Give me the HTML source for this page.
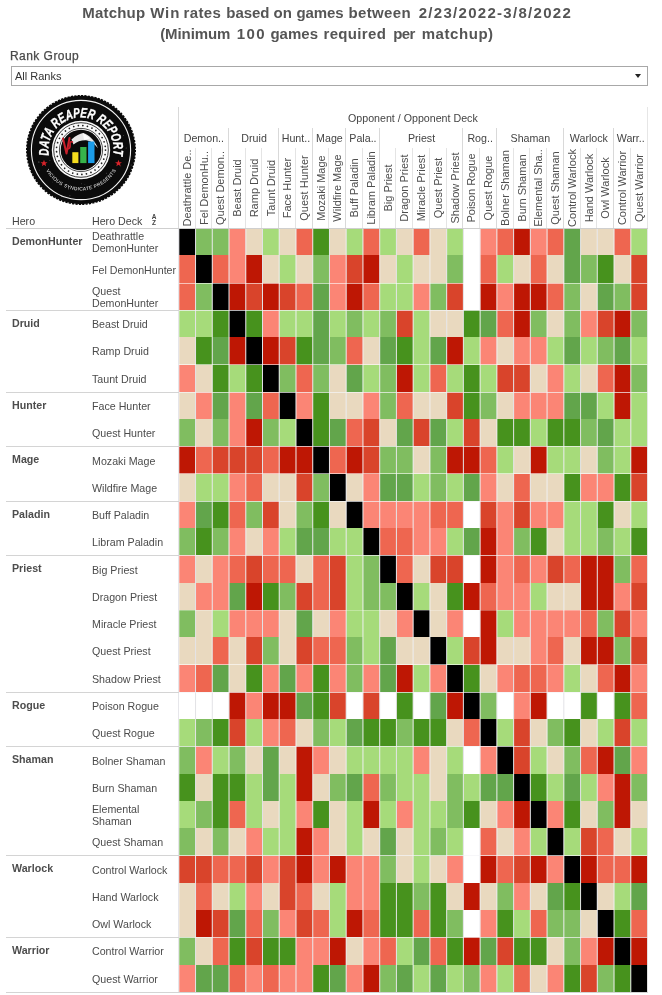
<!DOCTYPE html>
<html><head><meta charset="utf-8"><title>Matchup Win rates</title>
<style>
html,body{margin:0;padding:0;background:#fff;}
body{width:662px;height:995px;position:relative;overflow:hidden;font-family:"Liberation Sans",sans-serif;color:#444;}
.a{position:absolute;}
.t{position:absolute;left:0;width:654px;text-align:center;font-weight:bold;font-size:15px;line-height:20px;color:#555;white-space:nowrap;}
.hl{position:absolute;height:1px;background:#d4d4d4;left:6px;}
.vl{position:absolute;width:1px;background:#d9d9d9;}
.h{position:absolute;left:12px;font-weight:bold;font-size:10.667px;line-height:12.25px;color:#4d4d4d;white-space:nowrap;}
.d{position:absolute;left:92px;font-size:10.667px;line-height:12.25px;color:#4c4c4c;white-space:nowrap;display:flex;align-items:center;}
.g{position:absolute;font-size:10.667px;color:#444;text-align:center;white-space:nowrap;top:131.5px;line-height:12.25px;}
.v{position:absolute;font-size:11px;color:#4e4e4e;white-space:nowrap;transform-origin:0 0;transform:rotate(-90deg);line-height:12.25px;height:12.25px;width:80px;text-align:center;}
#w{position:absolute;left:0;top:0;width:662px;height:995px;will-change:transform;background:#fff;}
</style></head><body><div id="w">
<svg class="a" style="left:0;top:0;" width="662" height="48" viewBox="0 0 662 48"><g font-family="Liberation Sans, sans-serif" font-weight="bold" font-size="15" fill="#555"><text x="82.2" y="17.7" textLength="62.9" lengthAdjust="spacing">Matchup</text><text x="150.2" y="17.7" textLength="29.1" lengthAdjust="spacing">Win</text><text x="183.4" y="17.7" textLength="37.5" lengthAdjust="spacing">rates</text><text x="226.3" y="17.7" textLength="43.2" lengthAdjust="spacing">based</text><text x="273.6" y="17.7" textLength="18.3" lengthAdjust="spacing">on</text><text x="296.5" y="17.7" textLength="47.0" lengthAdjust="spacing">games</text><text x="348.4" y="17.7" textLength="62.2" lengthAdjust="spacing">between</text><text x="418.7" y="17.7" textLength="152.1" lengthAdjust="spacing">2/23/2022-3/8/2022</text><text x="160.2" y="38.5" textLength="70.2" lengthAdjust="spacing">(Minimum</text><text x="236.7" y="38.5" textLength="27.8" lengthAdjust="spacing">100</text><text x="270.4" y="38.5" textLength="47.7" lengthAdjust="spacing">games</text><text x="323.5" y="38.5" textLength="62.4" lengthAdjust="spacing">required</text><text x="393.3" y="38.5" textLength="22.0" lengthAdjust="spacing">per</text><text x="421.7" y="38.5" textLength="71.4" lengthAdjust="spacing">matchup)</text></g></svg>
<div class="a" style="left:10px;top:49px;font-size:12px;line-height:14px;color:#4a4a4a;letter-spacing:0.45px;white-space:nowrap;-webkit-text-stroke:0.25px #4a4a4a;">Rank Group</div>
<div class="a" style="left:11px;top:66px;width:637px;height:20px;border:1px solid #a8a8a8;box-sizing:border-box;"></div>
<div class="a" style="left:15px;top:70px;font-size:11px;line-height:12px;color:#333;white-space:nowrap;">All Ranks</div>
<div class="a" style="left:635px;top:74px;width:0;height:0;border-left:3px solid transparent;border-right:3px solid transparent;border-top:4px solid #222;"></div>
<svg class="a" style="left:24px;top:93px;" width="114" height="114" viewBox="-57 -57 114 114">
<defs>
<path id="arcT" d="M -31.8 7.2 A 32.6 32.6 0 1 1 31.8 7.2"/>
<path id="arcB" d="M -35.7 19.0 A 40.4 40.4 0 0 0 35.7 19.0"/>
</defs>
<circle r="54.2" fill="#0b0b0b"/>
<circle r="54.2" fill="none" stroke="#0b0b0b" stroke-width="1.6" stroke-dasharray="2.2 1.2"/>
<circle r="49.6" fill="none" stroke="#f4f4f4" stroke-width="1.1"/>
<text font-family="Liberation Sans, sans-serif" font-weight="bold" font-style="italic" font-size="13.8" fill="#fff" stroke="#fff" stroke-width="0.35" text-anchor="middle" textLength="113" lengthAdjust="spacingAndGlyphs"><textPath href="#arcT" startOffset="50%" textLength="113" lengthAdjust="spacingAndGlyphs">DATA REAPER REPORT</textPath></text>
<text font-family="Liberation Sans, sans-serif" font-size="4.8" fill="#f0f0f0" text-anchor="middle"><textPath href="#arcB" startOffset="50%" textLength="84" lengthAdjust="spacing">VICIOUS SYNDICATE PRESENTS</textPath></text>
<polygon fill="#d8232a" points="0,-3.6 0.95,-1.15 3.45,-1.1 1.5,0.5 2.15,2.95 0,1.55 -2.15,2.95 -1.5,0.5 -3.45,-1.1 -0.95,-1.15" transform="translate(-37,13.3)"/>
<polygon fill="#d8232a" points="0,-3.6 0.95,-1.15 3.45,-1.1 1.5,0.5 2.15,2.95 0,1.55 -2.15,2.95 -1.5,0.5 -3.45,-1.1 -0.95,-1.15" transform="translate(37.5,13.3)"/>
<circle cx="22.2" cy="31.0" r="0.45" fill="#fff" fill-opacity="0.28"/><circle cx="-28.4" cy="32.0" r="0.27" fill="#fff" fill-opacity="0.43"/><circle cx="-29.1" cy="12.9" r="0.27" fill="#fff" fill-opacity="0.28"/><circle cx="18.7" cy="-35.7" r="0.29" fill="#fff" fill-opacity="0.33"/><circle cx="42.4" cy="-14.5" r="0.42" fill="#fff" fill-opacity="0.39"/><circle cx="50.2" cy="15.1" r="0.51" fill="#fff" fill-opacity="0.35"/><circle cx="25.2" cy="23.0" r="0.34" fill="#fff" fill-opacity="0.54"/><circle cx="-30.5" cy="-17.2" r="0.44" fill="#fff" fill-opacity="0.38"/><circle cx="39.7" cy="16.5" r="0.27" fill="#fff" fill-opacity="0.32"/><circle cx="-41.3" cy="20.2" r="0.34" fill="#fff" fill-opacity="0.45"/><circle cx="-12.6" cy="39.0" r="0.49" fill="#fff" fill-opacity="0.49"/><circle cx="-32.5" cy="-16.4" r="0.41" fill="#fff" fill-opacity="0.56"/><circle cx="-11.1" cy="45.7" r="0.54" fill="#fff" fill-opacity="0.29"/><circle cx="1.8" cy="-40.2" r="0.30" fill="#fff" fill-opacity="0.42"/><circle cx="-15.7" cy="-27.7" r="0.48" fill="#fff" fill-opacity="0.45"/><circle cx="-19.6" cy="46.3" r="0.46" fill="#fff" fill-opacity="0.46"/><circle cx="-42.1" cy="11.9" r="0.50" fill="#fff" fill-opacity="0.58"/><circle cx="-21.3" cy="-35.5" r="0.27" fill="#fff" fill-opacity="0.50"/><circle cx="45.2" cy="-2.0" r="0.50" fill="#fff" fill-opacity="0.35"/><circle cx="-19.3" cy="-34.4" r="0.26" fill="#fff" fill-opacity="0.41"/><circle cx="25.7" cy="23.3" r="0.27" fill="#fff" fill-opacity="0.52"/><circle cx="0.5" cy="33.8" r="0.37" fill="#fff" fill-opacity="0.55"/><circle cx="-31.1" cy="10.3" r="0.41" fill="#fff" fill-opacity="0.56"/><circle cx="32.2" cy="-37.0" r="0.33" fill="#fff" fill-opacity="0.40"/><circle cx="29.0" cy="-25.9" r="0.54" fill="#fff" fill-opacity="0.30"/><circle cx="3.9" cy="34.7" r="0.32" fill="#fff" fill-opacity="0.42"/>
<circle r="29.2" fill="#fafafa"/>
<circle r="27.3" fill="none" stroke="#222" stroke-width="0.9"/>
<circle r="24.5" fill="none" stroke="#222" stroke-width="1.75" stroke-linecap="round" stroke-dasharray="0.01 4.655"/>
<circle r="21.6" fill="none" stroke="#222" stroke-width="0.8"/>
<circle r="20.3" fill="#0a0a0a"/>
<path d="M -9.5 -10.5 C -5 -14.5 -1 -16.5 2 -17 C 8 -15.5 14 -9 17 -1.8 C 13.5 -6.5 10 -9 6 -9.6 C 1 -10 -4 -8.5 -7.5 -5.5 Z" fill="#e6e6e6"/>
<path d="M 2 -17 L 9 -11.5 L 3 -10 Z" fill="#fbfbfb"/>
<path d="M -18 -11.5 L -14.5 3.5 L -11.5 -12" fill="none" stroke="#c8202b" stroke-width="2" stroke-linecap="round" stroke-linejoin="round"/>
<path d="M -8.6 -8 C -13.5 -9.5 -8.5 -2.5 -12.6 -1.2" fill="none" stroke="#c8202b" stroke-width="1.6" stroke-linecap="round"/>
<rect x="-8.7" y="2.2" width="6.1" height="10.9" fill="#f5dc1e"/>
<rect x="-0.8" y="-3.0" width="6.3" height="16.1" fill="#37b34a"/>
<rect x="7.1" y="-8.5" width="6.4" height="21.6" fill="#1c9ce8"/>
</svg>

<div class="a" style="left:348px;top:111.5px;font-size:10.667px;line-height:12.25px;color:#444;white-space:nowrap;">Opponent / Opponent Deck</div>
<div class="g" style="left:178.8px;width:50.2px;">Demon..</div>
<div class="g" style="left:229.0px;width:50.2px;">Druid</div>
<div class="g" style="left:279.2px;width:33.5px;">Hunt..</div>
<div class="g" style="left:312.7px;width:33.5px;">Mage</div>
<div class="g" style="left:346.2px;width:33.5px;">Pala..</div>
<div class="g" style="left:379.7px;width:83.7px;">Priest</div>
<div class="g" style="left:463.4px;width:33.5px;">Rog..</div>
<div class="g" style="left:496.9px;width:67.0px;">Shaman</div>
<div class="g" style="left:563.8px;width:50.2px;">Warlock</div>
<div class="g" style="left:614.0px;width:33.5px;">Warr..</div>
<div class="v" style="left:180.8px;top:228.3px;">Deathrattle De..</div>
<div class="v" style="left:197.5px;top:228.3px;">Fel DemonHu..</div>
<div class="v" style="left:214.2px;top:228.3px;">Quest Demon..</div>
<div class="v" style="left:231.0px;top:228.3px;">Beast Druid</div>
<div class="v" style="left:247.7px;top:228.3px;">Ramp Druid</div>
<div class="v" style="left:264.5px;top:228.3px;">Taunt Druid</div>
<div class="v" style="left:281.2px;top:228.3px;">Face Hunter</div>
<div class="v" style="left:298.0px;top:228.3px;">Quest Hunter</div>
<div class="v" style="left:314.7px;top:228.3px;">Mozaki Mage</div>
<div class="v" style="left:331.4px;top:228.3px;">Wildfire Mage</div>
<div class="v" style="left:348.2px;top:228.3px;">Buff Paladin</div>
<div class="v" style="left:364.9px;top:228.3px;">Libram Paladin</div>
<div class="v" style="left:381.7px;top:228.3px;">Big Priest</div>
<div class="v" style="left:398.4px;top:228.3px;">Dragon Priest</div>
<div class="v" style="left:415.1px;top:228.3px;">Miracle Priest</div>
<div class="v" style="left:431.9px;top:228.3px;">Quest Priest</div>
<div class="v" style="left:448.6px;top:228.3px;">Shadow Priest</div>
<div class="v" style="left:465.4px;top:228.3px;">Poison Rogue</div>
<div class="v" style="left:482.1px;top:228.3px;">Quest Rogue</div>
<div class="v" style="left:498.8px;top:228.3px;">Bolner Shaman</div>
<div class="v" style="left:515.6px;top:228.3px;">Burn Shaman</div>
<div class="v" style="left:532.3px;top:228.3px;">Elemental Sha..</div>
<div class="v" style="left:549.0px;top:228.3px;">Quest Shaman</div>
<div class="v" style="left:565.8px;top:228.3px;">Control Warlock</div>
<div class="v" style="left:582.5px;top:228.3px;">Hand Warlock</div>
<div class="v" style="left:599.3px;top:228.3px;">Owl Warlock</div>
<div class="v" style="left:616.0px;top:228.3px;">Control Warrior</div>
<div class="v" style="left:632.8px;top:228.3px;">Quest Warrior</div>
<div class="vl" style="left:178px;top:107px;height:121px;"></div>
<div class="vl" style="left:178px;top:228px;height:764px;background:#e6e6ea;"></div>
<div class="vl" style="left:647px;top:107px;height:885px;background:#e6e6e6;"></div>
<div class="vl" style="left:228px;top:128px;height:100px;"></div>
<div class="vl" style="left:278px;top:128px;height:100px;"></div>
<div class="vl" style="left:312px;top:128px;height:100px;"></div>
<div class="vl" style="left:345px;top:128px;height:100px;"></div>
<div class="vl" style="left:379px;top:128px;height:100px;"></div>
<div class="vl" style="left:462px;top:128px;height:100px;"></div>
<div class="vl" style="left:496px;top:128px;height:100px;"></div>
<div class="vl" style="left:563px;top:128px;height:100px;"></div>
<div class="vl" style="left:613px;top:128px;height:100px;"></div>
<div class="vl" style="left:195px;top:148px;height:80px;background:#e4e4e4;"></div>
<div class="vl" style="left:211px;top:148px;height:80px;background:#e4e4e4;"></div>
<div class="vl" style="left:245px;top:148px;height:80px;background:#e4e4e4;"></div>
<div class="vl" style="left:261px;top:148px;height:80px;background:#e4e4e4;"></div>
<div class="vl" style="left:295px;top:148px;height:80px;background:#e4e4e4;"></div>
<div class="vl" style="left:328px;top:148px;height:80px;background:#e4e4e4;"></div>
<div class="vl" style="left:362px;top:148px;height:80px;background:#e4e4e4;"></div>
<div class="vl" style="left:395px;top:148px;height:80px;background:#e4e4e4;"></div>
<div class="vl" style="left:412px;top:148px;height:80px;background:#e4e4e4;"></div>
<div class="vl" style="left:429px;top:148px;height:80px;background:#e4e4e4;"></div>
<div class="vl" style="left:446px;top:148px;height:80px;background:#e4e4e4;"></div>
<div class="vl" style="left:479px;top:148px;height:80px;background:#e4e4e4;"></div>
<div class="vl" style="left:513px;top:148px;height:80px;background:#e4e4e4;"></div>
<div class="vl" style="left:529px;top:148px;height:80px;background:#e4e4e4;"></div>
<div class="vl" style="left:546px;top:148px;height:80px;background:#e4e4e4;"></div>
<div class="vl" style="left:580px;top:148px;height:80px;background:#e4e4e4;"></div>
<div class="vl" style="left:596px;top:148px;height:80px;background:#e4e4e4;"></div>
<div class="vl" style="left:630px;top:148px;height:80px;background:#e4e4e4;"></div>
<div class="a" style="left:12px;top:214.8px;font-size:10.667px;line-height:12.25px;color:#444;">Hero</div>
<div class="a" style="left:92px;top:214.8px;font-size:10.667px;line-height:12.25px;color:#444;">Hero Deck</div>
<div class="a" style="left:151px;top:214.3px;font-size:6.5px;line-height:5.6px;color:#444;font-weight:bold;text-align:center;width:6px;">A<br>Z</div>
<svg class="a" style="left:0;top:0;" width="662" height="995" viewBox="0 0 662 995"><rect x="195.04" y="228.5" width="1" height="763.7" fill="#e2e2e6"/><rect x="211.78" y="228.5" width="1" height="763.7" fill="#e2e2e6"/><rect x="228.52" y="228.5" width="1" height="763.7" fill="#e2e2e6"/><rect x="245.26" y="228.5" width="1" height="763.7" fill="#e2e2e6"/><rect x="262.00" y="228.5" width="1" height="763.7" fill="#e2e2e6"/><rect x="278.74" y="228.5" width="1" height="763.7" fill="#e2e2e6"/><rect x="295.48" y="228.5" width="1" height="763.7" fill="#e2e2e6"/><rect x="312.22" y="228.5" width="1" height="763.7" fill="#e2e2e6"/><rect x="328.96" y="228.5" width="1" height="763.7" fill="#e2e2e6"/><rect x="345.70" y="228.5" width="1" height="763.7" fill="#e2e2e6"/><rect x="362.44" y="228.5" width="1" height="763.7" fill="#e2e2e6"/><rect x="379.18" y="228.5" width="1" height="763.7" fill="#e2e2e6"/><rect x="395.92" y="228.5" width="1" height="763.7" fill="#e2e2e6"/><rect x="412.66" y="228.5" width="1" height="763.7" fill="#e2e2e6"/><rect x="429.40" y="228.5" width="1" height="763.7" fill="#e2e2e6"/><rect x="446.14" y="228.5" width="1" height="763.7" fill="#e2e2e6"/><rect x="462.88" y="228.5" width="1" height="763.7" fill="#e2e2e6"/><rect x="479.62" y="228.5" width="1" height="763.7" fill="#e2e2e6"/><rect x="496.36" y="228.5" width="1" height="763.7" fill="#e2e2e6"/><rect x="513.10" y="228.5" width="1" height="763.7" fill="#e2e2e6"/><rect x="529.84" y="228.5" width="1" height="763.7" fill="#e2e2e6"/><rect x="546.58" y="228.5" width="1" height="763.7" fill="#e2e2e6"/><rect x="563.32" y="228.5" width="1" height="763.7" fill="#e2e2e6"/><rect x="580.06" y="228.5" width="1" height="763.7" fill="#e2e2e6"/><rect x="596.80" y="228.5" width="1" height="763.7" fill="#e2e2e6"/><rect x="613.54" y="228.5" width="1" height="763.7" fill="#e2e2e6"/><rect x="630.28" y="228.5" width="1" height="763.7" fill="#e2e2e6"/><rect x="179.30" y="229" width="15.74" height="26" fill="#000000"/><rect x="196.04" y="229" width="15.74" height="26" fill="#80bd60"/><rect x="212.78" y="229" width="15.74" height="26" fill="#80bd60"/><rect x="229.52" y="229" width="15.74" height="26" fill="#fb8575"/><rect x="246.26" y="229" width="15.74" height="26" fill="#e9d9bf"/><rect x="263.00" y="229" width="15.74" height="26" fill="#a6db7a"/><rect x="279.74" y="229" width="15.74" height="26" fill="#e9d9bf"/><rect x="296.48" y="229" width="15.74" height="26" fill="#ee6650"/><rect x="313.22" y="229" width="15.74" height="26" fill="#47921d"/><rect x="329.96" y="229" width="15.74" height="26" fill="#e9d9bf"/><rect x="346.70" y="229" width="15.74" height="26" fill="#a6db7a"/><rect x="363.44" y="229" width="15.74" height="26" fill="#ee6650"/><rect x="380.18" y="229" width="15.74" height="26" fill="#a6db7a"/><rect x="396.92" y="229" width="15.74" height="26" fill="#e9d9bf"/><rect x="413.66" y="229" width="15.74" height="26" fill="#ee6650"/><rect x="430.40" y="229" width="15.74" height="26" fill="#e9d9bf"/><rect x="447.14" y="229" width="15.74" height="26" fill="#a6db7a"/><rect x="480.62" y="229" width="15.74" height="26" fill="#fb8575"/><rect x="497.36" y="229" width="15.74" height="26" fill="#ee6650"/><rect x="514.10" y="229" width="15.74" height="26" fill="#be1704"/><rect x="530.84" y="229" width="15.74" height="26" fill="#fb8575"/><rect x="547.58" y="229" width="15.74" height="26" fill="#ee6650"/><rect x="564.32" y="229" width="15.74" height="26" fill="#62a54b"/><rect x="581.06" y="229" width="15.74" height="26" fill="#e9d9bf"/><rect x="597.80" y="229" width="15.74" height="26" fill="#e9d9bf"/><rect x="614.54" y="229" width="15.74" height="26" fill="#ee6650"/><rect x="631.28" y="229" width="15.74" height="26" fill="#a6db7a"/>
<rect x="179.30" y="255" width="15.74" height="28" fill="#ee6650"/><rect x="196.04" y="255" width="15.74" height="28" fill="#000000"/><rect x="212.78" y="255" width="15.74" height="28" fill="#ee6650"/><rect x="229.52" y="255" width="15.74" height="28" fill="#fb8575"/><rect x="246.26" y="255" width="15.74" height="28" fill="#be1704"/><rect x="263.00" y="255" width="15.74" height="28" fill="#e9d9bf"/><rect x="279.74" y="255" width="15.74" height="28" fill="#a6db7a"/><rect x="296.48" y="255" width="15.74" height="28" fill="#e9d9bf"/><rect x="313.22" y="255" width="15.74" height="28" fill="#80bd60"/><rect x="329.96" y="255" width="15.74" height="28" fill="#fb8575"/><rect x="346.70" y="255" width="15.74" height="28" fill="#d9442b"/><rect x="363.44" y="255" width="15.74" height="28" fill="#be1704"/><rect x="380.18" y="255" width="15.74" height="28" fill="#e9d9bf"/><rect x="396.92" y="255" width="15.74" height="28" fill="#a6db7a"/><rect x="413.66" y="255" width="15.74" height="28" fill="#e9d9bf"/><rect x="430.40" y="255" width="15.74" height="28" fill="#e9d9bf"/><rect x="447.14" y="255" width="15.74" height="28" fill="#80bd60"/><rect x="480.62" y="255" width="15.74" height="28" fill="#ee6650"/><rect x="497.36" y="255" width="15.74" height="28" fill="#a6db7a"/><rect x="514.10" y="255" width="15.74" height="28" fill="#e9d9bf"/><rect x="530.84" y="255" width="15.74" height="28" fill="#ee6650"/><rect x="547.58" y="255" width="15.74" height="28" fill="#e9d9bf"/><rect x="564.32" y="255" width="15.74" height="28" fill="#62a54b"/><rect x="581.06" y="255" width="15.74" height="28" fill="#80bd60"/><rect x="597.80" y="255" width="15.74" height="28" fill="#47921d"/><rect x="614.54" y="255" width="15.74" height="28" fill="#e9d9bf"/><rect x="631.28" y="255" width="15.74" height="28" fill="#d9442b"/>
<rect x="179.30" y="283" width="15.74" height="27" fill="#ee6650"/><rect x="196.04" y="283" width="15.74" height="27" fill="#80bd60"/><rect x="212.78" y="283" width="15.74" height="27" fill="#000000"/><rect x="229.52" y="283" width="15.74" height="27" fill="#be1704"/><rect x="246.26" y="283" width="15.74" height="27" fill="#d9442b"/><rect x="263.00" y="283" width="15.74" height="27" fill="#be1704"/><rect x="279.74" y="283" width="15.74" height="27" fill="#d9442b"/><rect x="296.48" y="283" width="15.74" height="27" fill="#ee6650"/><rect x="313.22" y="283" width="15.74" height="27" fill="#62a54b"/><rect x="329.96" y="283" width="15.74" height="27" fill="#fb8575"/><rect x="346.70" y="283" width="15.74" height="27" fill="#be1704"/><rect x="363.44" y="283" width="15.74" height="27" fill="#ee6650"/><rect x="380.18" y="283" width="15.74" height="27" fill="#a6db7a"/><rect x="396.92" y="283" width="15.74" height="27" fill="#a6db7a"/><rect x="413.66" y="283" width="15.74" height="27" fill="#fb8575"/><rect x="430.40" y="283" width="15.74" height="27" fill="#80bd60"/><rect x="447.14" y="283" width="15.74" height="27" fill="#d9442b"/><rect x="480.62" y="283" width="15.74" height="27" fill="#be1704"/><rect x="497.36" y="283" width="15.74" height="27" fill="#fb8575"/><rect x="514.10" y="283" width="15.74" height="27" fill="#be1704"/><rect x="530.84" y="283" width="15.74" height="27" fill="#be1704"/><rect x="547.58" y="283" width="15.74" height="27" fill="#ee6650"/><rect x="564.32" y="283" width="15.74" height="27" fill="#80bd60"/><rect x="581.06" y="283" width="15.74" height="27" fill="#e9d9bf"/><rect x="597.80" y="283" width="15.74" height="27" fill="#62a54b"/><rect x="614.54" y="283" width="15.74" height="27" fill="#80bd60"/><rect x="631.28" y="283" width="15.74" height="27" fill="#d9442b"/>
<rect x="179.30" y="310" width="15.74" height="27" fill="#a6db7a"/><rect x="196.04" y="310" width="15.74" height="27" fill="#a6db7a"/><rect x="212.78" y="310" width="15.74" height="27" fill="#47921d"/><rect x="229.52" y="310" width="15.74" height="27" fill="#000000"/><rect x="246.26" y="310" width="15.74" height="27" fill="#47921d"/><rect x="263.00" y="310" width="15.74" height="27" fill="#fb8575"/><rect x="279.74" y="310" width="15.74" height="27" fill="#a6db7a"/><rect x="296.48" y="310" width="15.74" height="27" fill="#a6db7a"/><rect x="313.22" y="310" width="15.74" height="27" fill="#62a54b"/><rect x="329.96" y="310" width="15.74" height="27" fill="#a6db7a"/><rect x="346.70" y="310" width="15.74" height="27" fill="#80bd60"/><rect x="363.44" y="310" width="15.74" height="27" fill="#a6db7a"/><rect x="380.18" y="310" width="15.74" height="27" fill="#80bd60"/><rect x="396.92" y="310" width="15.74" height="27" fill="#d9442b"/><rect x="413.66" y="310" width="15.74" height="27" fill="#a6db7a"/><rect x="430.40" y="310" width="15.74" height="27" fill="#e9d9bf"/><rect x="447.14" y="310" width="15.74" height="27" fill="#e9d9bf"/><rect x="463.88" y="310" width="15.74" height="27" fill="#47921d"/><rect x="480.62" y="310" width="15.74" height="27" fill="#62a54b"/><rect x="497.36" y="310" width="15.74" height="27" fill="#ee6650"/><rect x="514.10" y="310" width="15.74" height="27" fill="#be1704"/><rect x="530.84" y="310" width="15.74" height="27" fill="#80bd60"/><rect x="547.58" y="310" width="15.74" height="27" fill="#e9d9bf"/><rect x="564.32" y="310" width="15.74" height="27" fill="#80bd60"/><rect x="581.06" y="310" width="15.74" height="27" fill="#fb8575"/><rect x="597.80" y="310" width="15.74" height="27" fill="#d9442b"/><rect x="614.54" y="310" width="15.74" height="27" fill="#be1704"/><rect x="631.28" y="310" width="15.74" height="27" fill="#80bd60"/>
<rect x="179.30" y="337" width="15.74" height="28" fill="#e9d9bf"/><rect x="196.04" y="337" width="15.74" height="28" fill="#47921d"/><rect x="212.78" y="337" width="15.74" height="28" fill="#62a54b"/><rect x="229.52" y="337" width="15.74" height="28" fill="#be1704"/><rect x="246.26" y="337" width="15.74" height="28" fill="#000000"/><rect x="263.00" y="337" width="15.74" height="28" fill="#be1704"/><rect x="279.74" y="337" width="15.74" height="28" fill="#d9442b"/><rect x="296.48" y="337" width="15.74" height="28" fill="#47921d"/><rect x="313.22" y="337" width="15.74" height="28" fill="#62a54b"/><rect x="329.96" y="337" width="15.74" height="28" fill="#80bd60"/><rect x="346.70" y="337" width="15.74" height="28" fill="#ee6650"/><rect x="363.44" y="337" width="15.74" height="28" fill="#e9d9bf"/><rect x="380.18" y="337" width="15.74" height="28" fill="#62a54b"/><rect x="396.92" y="337" width="15.74" height="28" fill="#47921d"/><rect x="413.66" y="337" width="15.74" height="28" fill="#a6db7a"/><rect x="430.40" y="337" width="15.74" height="28" fill="#62a54b"/><rect x="447.14" y="337" width="15.74" height="28" fill="#be1704"/><rect x="463.88" y="337" width="15.74" height="28" fill="#a6db7a"/><rect x="480.62" y="337" width="15.74" height="28" fill="#fb8575"/><rect x="497.36" y="337" width="15.74" height="28" fill="#e9d9bf"/><rect x="514.10" y="337" width="15.74" height="28" fill="#fb8575"/><rect x="530.84" y="337" width="15.74" height="28" fill="#fb8575"/><rect x="547.58" y="337" width="15.74" height="28" fill="#a6db7a"/><rect x="564.32" y="337" width="15.74" height="28" fill="#62a54b"/><rect x="581.06" y="337" width="15.74" height="28" fill="#a6db7a"/><rect x="597.80" y="337" width="15.74" height="28" fill="#80bd60"/><rect x="614.54" y="337" width="15.74" height="28" fill="#62a54b"/><rect x="631.28" y="337" width="15.74" height="28" fill="#a6db7a"/>
<rect x="179.30" y="365" width="15.74" height="27" fill="#fb8575"/><rect x="196.04" y="365" width="15.74" height="27" fill="#e9d9bf"/><rect x="212.78" y="365" width="15.74" height="27" fill="#47921d"/><rect x="229.52" y="365" width="15.74" height="27" fill="#a6db7a"/><rect x="246.26" y="365" width="15.74" height="27" fill="#47921d"/><rect x="263.00" y="365" width="15.74" height="27" fill="#000000"/><rect x="279.74" y="365" width="15.74" height="27" fill="#80bd60"/><rect x="296.48" y="365" width="15.74" height="27" fill="#ee6650"/><rect x="313.22" y="365" width="15.74" height="27" fill="#80bd60"/><rect x="329.96" y="365" width="15.74" height="27" fill="#e9d9bf"/><rect x="346.70" y="365" width="15.74" height="27" fill="#62a54b"/><rect x="363.44" y="365" width="15.74" height="27" fill="#a6db7a"/><rect x="380.18" y="365" width="15.74" height="27" fill="#80bd60"/><rect x="396.92" y="365" width="15.74" height="27" fill="#be1704"/><rect x="413.66" y="365" width="15.74" height="27" fill="#a6db7a"/><rect x="430.40" y="365" width="15.74" height="27" fill="#ee6650"/><rect x="447.14" y="365" width="15.74" height="27" fill="#a6db7a"/><rect x="463.88" y="365" width="15.74" height="27" fill="#47921d"/><rect x="480.62" y="365" width="15.74" height="27" fill="#a6db7a"/><rect x="497.36" y="365" width="15.74" height="27" fill="#d9442b"/><rect x="514.10" y="365" width="15.74" height="27" fill="#d9442b"/><rect x="530.84" y="365" width="15.74" height="27" fill="#e9d9bf"/><rect x="547.58" y="365" width="15.74" height="27" fill="#fb8575"/><rect x="564.32" y="365" width="15.74" height="27" fill="#a6db7a"/><rect x="581.06" y="365" width="15.74" height="27" fill="#e9d9bf"/><rect x="597.80" y="365" width="15.74" height="27" fill="#ee6650"/><rect x="614.54" y="365" width="15.74" height="27" fill="#be1704"/><rect x="631.28" y="365" width="15.74" height="27" fill="#80bd60"/>
<rect x="179.30" y="392" width="15.74" height="27" fill="#e9d9bf"/><rect x="196.04" y="392" width="15.74" height="27" fill="#fb8575"/><rect x="212.78" y="392" width="15.74" height="27" fill="#62a54b"/><rect x="229.52" y="392" width="15.74" height="27" fill="#fb8575"/><rect x="246.26" y="392" width="15.74" height="27" fill="#62a54b"/><rect x="263.00" y="392" width="15.74" height="27" fill="#ee6650"/><rect x="279.74" y="392" width="15.74" height="27" fill="#000000"/><rect x="296.48" y="392" width="15.74" height="27" fill="#fb8575"/><rect x="313.22" y="392" width="15.74" height="27" fill="#47921d"/><rect x="329.96" y="392" width="15.74" height="27" fill="#e9d9bf"/><rect x="346.70" y="392" width="15.74" height="27" fill="#e9d9bf"/><rect x="363.44" y="392" width="15.74" height="27" fill="#fb8575"/><rect x="380.18" y="392" width="15.74" height="27" fill="#80bd60"/><rect x="396.92" y="392" width="15.74" height="27" fill="#ee6650"/><rect x="413.66" y="392" width="15.74" height="27" fill="#e9d9bf"/><rect x="430.40" y="392" width="15.74" height="27" fill="#e9d9bf"/><rect x="447.14" y="392" width="15.74" height="27" fill="#d9442b"/><rect x="463.88" y="392" width="15.74" height="27" fill="#47921d"/><rect x="480.62" y="392" width="15.74" height="27" fill="#80bd60"/><rect x="497.36" y="392" width="15.74" height="27" fill="#e9d9bf"/><rect x="514.10" y="392" width="15.74" height="27" fill="#fb8575"/><rect x="530.84" y="392" width="15.74" height="27" fill="#fb8575"/><rect x="547.58" y="392" width="15.74" height="27" fill="#fb8575"/><rect x="564.32" y="392" width="15.74" height="27" fill="#62a54b"/><rect x="581.06" y="392" width="15.74" height="27" fill="#62a54b"/><rect x="597.80" y="392" width="15.74" height="27" fill="#a6db7a"/><rect x="614.54" y="392" width="15.74" height="27" fill="#be1704"/><rect x="631.28" y="392" width="15.74" height="27" fill="#a6db7a"/>
<rect x="179.30" y="419" width="15.74" height="27" fill="#80bd60"/><rect x="196.04" y="419" width="15.74" height="27" fill="#e9d9bf"/><rect x="212.78" y="419" width="15.74" height="27" fill="#80bd60"/><rect x="229.52" y="419" width="15.74" height="27" fill="#fb8575"/><rect x="246.26" y="419" width="15.74" height="27" fill="#be1704"/><rect x="263.00" y="419" width="15.74" height="27" fill="#80bd60"/><rect x="279.74" y="419" width="15.74" height="27" fill="#a6db7a"/><rect x="296.48" y="419" width="15.74" height="27" fill="#000000"/><rect x="313.22" y="419" width="15.74" height="27" fill="#47921d"/><rect x="329.96" y="419" width="15.74" height="27" fill="#62a54b"/><rect x="346.70" y="419" width="15.74" height="27" fill="#ee6650"/><rect x="363.44" y="419" width="15.74" height="27" fill="#d9442b"/><rect x="380.18" y="419" width="15.74" height="27" fill="#e9d9bf"/><rect x="396.92" y="419" width="15.74" height="27" fill="#62a54b"/><rect x="413.66" y="419" width="15.74" height="27" fill="#d9442b"/><rect x="430.40" y="419" width="15.74" height="27" fill="#62a54b"/><rect x="447.14" y="419" width="15.74" height="27" fill="#a6db7a"/><rect x="463.88" y="419" width="15.74" height="27" fill="#d9442b"/><rect x="480.62" y="419" width="15.74" height="27" fill="#e9d9bf"/><rect x="497.36" y="419" width="15.74" height="27" fill="#47921d"/><rect x="514.10" y="419" width="15.74" height="27" fill="#47921d"/><rect x="530.84" y="419" width="15.74" height="27" fill="#a6db7a"/><rect x="547.58" y="419" width="15.74" height="27" fill="#47921d"/><rect x="564.32" y="419" width="15.74" height="27" fill="#47921d"/><rect x="581.06" y="419" width="15.74" height="27" fill="#80bd60"/><rect x="597.80" y="419" width="15.74" height="27" fill="#62a54b"/><rect x="614.54" y="419" width="15.74" height="27" fill="#a6db7a"/><rect x="631.28" y="419" width="15.74" height="27" fill="#a6db7a"/>
<rect x="179.30" y="446" width="15.74" height="28" fill="#be1704"/><rect x="196.04" y="446" width="15.74" height="28" fill="#ee6650"/><rect x="212.78" y="446" width="15.74" height="28" fill="#d9442b"/><rect x="229.52" y="446" width="15.74" height="28" fill="#d9442b"/><rect x="246.26" y="446" width="15.74" height="28" fill="#d9442b"/><rect x="263.00" y="446" width="15.74" height="28" fill="#ee6650"/><rect x="279.74" y="446" width="15.74" height="28" fill="#be1704"/><rect x="296.48" y="446" width="15.74" height="28" fill="#be1704"/><rect x="313.22" y="446" width="15.74" height="28" fill="#000000"/><rect x="329.96" y="446" width="15.74" height="28" fill="#ee6650"/><rect x="346.70" y="446" width="15.74" height="28" fill="#be1704"/><rect x="363.44" y="446" width="15.74" height="28" fill="#d9442b"/><rect x="380.18" y="446" width="15.74" height="28" fill="#80bd60"/><rect x="396.92" y="446" width="15.74" height="28" fill="#80bd60"/><rect x="413.66" y="446" width="15.74" height="28" fill="#e9d9bf"/><rect x="430.40" y="446" width="15.74" height="28" fill="#80bd60"/><rect x="447.14" y="446" width="15.74" height="28" fill="#be1704"/><rect x="463.88" y="446" width="15.74" height="28" fill="#be1704"/><rect x="480.62" y="446" width="15.74" height="28" fill="#ee6650"/><rect x="497.36" y="446" width="15.74" height="28" fill="#a6db7a"/><rect x="514.10" y="446" width="15.74" height="28" fill="#e9d9bf"/><rect x="530.84" y="446" width="15.74" height="28" fill="#be1704"/><rect x="547.58" y="446" width="15.74" height="28" fill="#a6db7a"/><rect x="564.32" y="446" width="15.74" height="28" fill="#a6db7a"/><rect x="581.06" y="446" width="15.74" height="28" fill="#e9d9bf"/><rect x="597.80" y="446" width="15.74" height="28" fill="#80bd60"/><rect x="614.54" y="446" width="15.74" height="28" fill="#a6db7a"/><rect x="631.28" y="446" width="15.74" height="28" fill="#be1704"/>
<rect x="179.30" y="474" width="15.74" height="27" fill="#e9d9bf"/><rect x="196.04" y="474" width="15.74" height="27" fill="#a6db7a"/><rect x="212.78" y="474" width="15.74" height="27" fill="#a6db7a"/><rect x="229.52" y="474" width="15.74" height="27" fill="#fb8575"/><rect x="246.26" y="474" width="15.74" height="27" fill="#ee6650"/><rect x="263.00" y="474" width="15.74" height="27" fill="#e9d9bf"/><rect x="279.74" y="474" width="15.74" height="27" fill="#e9d9bf"/><rect x="296.48" y="474" width="15.74" height="27" fill="#d9442b"/><rect x="313.22" y="474" width="15.74" height="27" fill="#80bd60"/><rect x="329.96" y="474" width="15.74" height="27" fill="#000000"/><rect x="346.70" y="474" width="15.74" height="27" fill="#e9d9bf"/><rect x="363.44" y="474" width="15.74" height="27" fill="#fb8575"/><rect x="380.18" y="474" width="15.74" height="27" fill="#62a54b"/><rect x="396.92" y="474" width="15.74" height="27" fill="#62a54b"/><rect x="413.66" y="474" width="15.74" height="27" fill="#a6db7a"/><rect x="430.40" y="474" width="15.74" height="27" fill="#80bd60"/><rect x="447.14" y="474" width="15.74" height="27" fill="#a6db7a"/><rect x="463.88" y="474" width="15.74" height="27" fill="#62a54b"/><rect x="480.62" y="474" width="15.74" height="27" fill="#fb8575"/><rect x="497.36" y="474" width="15.74" height="27" fill="#e9d9bf"/><rect x="514.10" y="474" width="15.74" height="27" fill="#ee6650"/><rect x="530.84" y="474" width="15.74" height="27" fill="#e9d9bf"/><rect x="547.58" y="474" width="15.74" height="27" fill="#e9d9bf"/><rect x="564.32" y="474" width="15.74" height="27" fill="#47921d"/><rect x="581.06" y="474" width="15.74" height="27" fill="#fb8575"/><rect x="597.80" y="474" width="15.74" height="27" fill="#fb8575"/><rect x="614.54" y="474" width="15.74" height="27" fill="#47921d"/><rect x="631.28" y="474" width="15.74" height="27" fill="#d9442b"/>
<rect x="179.30" y="501" width="15.74" height="27" fill="#fb8575"/><rect x="196.04" y="501" width="15.74" height="27" fill="#62a54b"/><rect x="212.78" y="501" width="15.74" height="27" fill="#47921d"/><rect x="229.52" y="501" width="15.74" height="27" fill="#ee6650"/><rect x="246.26" y="501" width="15.74" height="27" fill="#80bd60"/><rect x="263.00" y="501" width="15.74" height="27" fill="#d9442b"/><rect x="279.74" y="501" width="15.74" height="27" fill="#e9d9bf"/><rect x="296.48" y="501" width="15.74" height="27" fill="#80bd60"/><rect x="313.22" y="501" width="15.74" height="27" fill="#47921d"/><rect x="329.96" y="501" width="15.74" height="27" fill="#e9d9bf"/><rect x="346.70" y="501" width="15.74" height="27" fill="#000000"/><rect x="363.44" y="501" width="15.74" height="27" fill="#fb8575"/><rect x="380.18" y="501" width="15.74" height="27" fill="#fb8575"/><rect x="396.92" y="501" width="15.74" height="27" fill="#fb8575"/><rect x="413.66" y="501" width="15.74" height="27" fill="#fb8575"/><rect x="430.40" y="501" width="15.74" height="27" fill="#ee6650"/><rect x="447.14" y="501" width="15.74" height="27" fill="#ee6650"/><rect x="480.62" y="501" width="15.74" height="27" fill="#d9442b"/><rect x="497.36" y="501" width="15.74" height="27" fill="#fb8575"/><rect x="514.10" y="501" width="15.74" height="27" fill="#d9442b"/><rect x="530.84" y="501" width="15.74" height="27" fill="#fb8575"/><rect x="547.58" y="501" width="15.74" height="27" fill="#fb8575"/><rect x="564.32" y="501" width="15.74" height="27" fill="#a6db7a"/><rect x="581.06" y="501" width="15.74" height="27" fill="#a6db7a"/><rect x="597.80" y="501" width="15.74" height="27" fill="#47921d"/><rect x="614.54" y="501" width="15.74" height="27" fill="#e9d9bf"/><rect x="631.28" y="501" width="15.74" height="27" fill="#a6db7a"/>
<rect x="179.30" y="528" width="15.74" height="27" fill="#80bd60"/><rect x="196.04" y="528" width="15.74" height="27" fill="#47921d"/><rect x="212.78" y="528" width="15.74" height="27" fill="#80bd60"/><rect x="229.52" y="528" width="15.74" height="27" fill="#fb8575"/><rect x="246.26" y="528" width="15.74" height="27" fill="#e9d9bf"/><rect x="263.00" y="528" width="15.74" height="27" fill="#fb8575"/><rect x="279.74" y="528" width="15.74" height="27" fill="#a6db7a"/><rect x="296.48" y="528" width="15.74" height="27" fill="#62a54b"/><rect x="313.22" y="528" width="15.74" height="27" fill="#62a54b"/><rect x="329.96" y="528" width="15.74" height="27" fill="#a6db7a"/><rect x="346.70" y="528" width="15.74" height="27" fill="#a6db7a"/><rect x="363.44" y="528" width="15.74" height="27" fill="#000000"/><rect x="380.18" y="528" width="15.74" height="27" fill="#ee6650"/><rect x="396.92" y="528" width="15.74" height="27" fill="#ee6650"/><rect x="413.66" y="528" width="15.74" height="27" fill="#fb8575"/><rect x="430.40" y="528" width="15.74" height="27" fill="#fb8575"/><rect x="447.14" y="528" width="15.74" height="27" fill="#a6db7a"/><rect x="463.88" y="528" width="15.74" height="27" fill="#62a54b"/><rect x="480.62" y="528" width="15.74" height="27" fill="#be1704"/><rect x="497.36" y="528" width="15.74" height="27" fill="#fb8575"/><rect x="514.10" y="528" width="15.74" height="27" fill="#80bd60"/><rect x="530.84" y="528" width="15.74" height="27" fill="#47921d"/><rect x="547.58" y="528" width="15.74" height="27" fill="#e9d9bf"/><rect x="564.32" y="528" width="15.74" height="27" fill="#a6db7a"/><rect x="581.06" y="528" width="15.74" height="27" fill="#a6db7a"/><rect x="597.80" y="528" width="15.74" height="27" fill="#80bd60"/><rect x="614.54" y="528" width="15.74" height="27" fill="#a6db7a"/><rect x="631.28" y="528" width="15.74" height="27" fill="#47921d"/>
<rect x="179.30" y="555" width="15.74" height="28" fill="#fb8575"/><rect x="196.04" y="555" width="15.74" height="28" fill="#e9d9bf"/><rect x="212.78" y="555" width="15.74" height="28" fill="#fb8575"/><rect x="229.52" y="555" width="15.74" height="28" fill="#ee6650"/><rect x="246.26" y="555" width="15.74" height="28" fill="#d9442b"/><rect x="263.00" y="555" width="15.74" height="28" fill="#ee6650"/><rect x="279.74" y="555" width="15.74" height="28" fill="#ee6650"/><rect x="296.48" y="555" width="15.74" height="28" fill="#e9d9bf"/><rect x="313.22" y="555" width="15.74" height="28" fill="#ee6650"/><rect x="329.96" y="555" width="15.74" height="28" fill="#d9442b"/><rect x="346.70" y="555" width="15.74" height="28" fill="#a6db7a"/><rect x="363.44" y="555" width="15.74" height="28" fill="#80bd60"/><rect x="380.18" y="555" width="15.74" height="28" fill="#000000"/><rect x="396.92" y="555" width="15.74" height="28" fill="#ee6650"/><rect x="413.66" y="555" width="15.74" height="28" fill="#e9d9bf"/><rect x="430.40" y="555" width="15.74" height="28" fill="#d9442b"/><rect x="447.14" y="555" width="15.74" height="28" fill="#d9442b"/><rect x="480.62" y="555" width="15.74" height="28" fill="#be1704"/><rect x="497.36" y="555" width="15.74" height="28" fill="#fb8575"/><rect x="514.10" y="555" width="15.74" height="28" fill="#ee6650"/><rect x="530.84" y="555" width="15.74" height="28" fill="#fb8575"/><rect x="547.58" y="555" width="15.74" height="28" fill="#d9442b"/><rect x="564.32" y="555" width="15.74" height="28" fill="#ee6650"/><rect x="581.06" y="555" width="15.74" height="28" fill="#be1704"/><rect x="597.80" y="555" width="15.74" height="28" fill="#be1704"/><rect x="614.54" y="555" width="15.74" height="28" fill="#80bd60"/><rect x="631.28" y="555" width="15.74" height="28" fill="#ee6650"/>
<rect x="179.30" y="583" width="15.74" height="27" fill="#e9d9bf"/><rect x="196.04" y="583" width="15.74" height="27" fill="#fb8575"/><rect x="212.78" y="583" width="15.74" height="27" fill="#fb8575"/><rect x="229.52" y="583" width="15.74" height="27" fill="#62a54b"/><rect x="246.26" y="583" width="15.74" height="27" fill="#be1704"/><rect x="263.00" y="583" width="15.74" height="27" fill="#47921d"/><rect x="279.74" y="583" width="15.74" height="27" fill="#80bd60"/><rect x="296.48" y="583" width="15.74" height="27" fill="#d9442b"/><rect x="313.22" y="583" width="15.74" height="27" fill="#ee6650"/><rect x="329.96" y="583" width="15.74" height="27" fill="#d9442b"/><rect x="346.70" y="583" width="15.74" height="27" fill="#a6db7a"/><rect x="363.44" y="583" width="15.74" height="27" fill="#80bd60"/><rect x="380.18" y="583" width="15.74" height="27" fill="#80bd60"/><rect x="396.92" y="583" width="15.74" height="27" fill="#000000"/><rect x="413.66" y="583" width="15.74" height="27" fill="#a6db7a"/><rect x="430.40" y="583" width="15.74" height="27" fill="#e9d9bf"/><rect x="447.14" y="583" width="15.74" height="27" fill="#47921d"/><rect x="463.88" y="583" width="15.74" height="27" fill="#be1704"/><rect x="480.62" y="583" width="15.74" height="27" fill="#ee6650"/><rect x="497.36" y="583" width="15.74" height="27" fill="#fb8575"/><rect x="514.10" y="583" width="15.74" height="27" fill="#fb8575"/><rect x="530.84" y="583" width="15.74" height="27" fill="#a6db7a"/><rect x="547.58" y="583" width="15.74" height="27" fill="#e9d9bf"/><rect x="564.32" y="583" width="15.74" height="27" fill="#e9d9bf"/><rect x="581.06" y="583" width="15.74" height="27" fill="#be1704"/><rect x="597.80" y="583" width="15.74" height="27" fill="#be1704"/><rect x="614.54" y="583" width="15.74" height="27" fill="#fb8575"/><rect x="631.28" y="583" width="15.74" height="27" fill="#d9442b"/>
<rect x="179.30" y="610" width="15.74" height="27" fill="#80bd60"/><rect x="196.04" y="610" width="15.74" height="27" fill="#e9d9bf"/><rect x="212.78" y="610" width="15.74" height="27" fill="#a6db7a"/><rect x="229.52" y="610" width="15.74" height="27" fill="#fb8575"/><rect x="246.26" y="610" width="15.74" height="27" fill="#fb8575"/><rect x="263.00" y="610" width="15.74" height="27" fill="#fb8575"/><rect x="279.74" y="610" width="15.74" height="27" fill="#e9d9bf"/><rect x="296.48" y="610" width="15.74" height="27" fill="#62a54b"/><rect x="313.22" y="610" width="15.74" height="27" fill="#e9d9bf"/><rect x="329.96" y="610" width="15.74" height="27" fill="#fb8575"/><rect x="346.70" y="610" width="15.74" height="27" fill="#a6db7a"/><rect x="363.44" y="610" width="15.74" height="27" fill="#a6db7a"/><rect x="380.18" y="610" width="15.74" height="27" fill="#e9d9bf"/><rect x="396.92" y="610" width="15.74" height="27" fill="#fb8575"/><rect x="413.66" y="610" width="15.74" height="27" fill="#000000"/><rect x="430.40" y="610" width="15.74" height="27" fill="#e9d9bf"/><rect x="447.14" y="610" width="15.74" height="27" fill="#fb8575"/><rect x="480.62" y="610" width="15.74" height="27" fill="#be1704"/><rect x="497.36" y="610" width="15.74" height="27" fill="#a6db7a"/><rect x="514.10" y="610" width="15.74" height="27" fill="#fb8575"/><rect x="530.84" y="610" width="15.74" height="27" fill="#fb8575"/><rect x="547.58" y="610" width="15.74" height="27" fill="#fb8575"/><rect x="564.32" y="610" width="15.74" height="27" fill="#fb8575"/><rect x="581.06" y="610" width="15.74" height="27" fill="#ee6650"/><rect x="597.80" y="610" width="15.74" height="27" fill="#80bd60"/><rect x="614.54" y="610" width="15.74" height="27" fill="#d9442b"/><rect x="631.28" y="610" width="15.74" height="27" fill="#fb8575"/>
<rect x="179.30" y="637" width="15.74" height="28" fill="#e9d9bf"/><rect x="196.04" y="637" width="15.74" height="28" fill="#e9d9bf"/><rect x="212.78" y="637" width="15.74" height="28" fill="#ee6650"/><rect x="229.52" y="637" width="15.74" height="28" fill="#e9d9bf"/><rect x="246.26" y="637" width="15.74" height="28" fill="#d9442b"/><rect x="263.00" y="637" width="15.74" height="28" fill="#80bd60"/><rect x="279.74" y="637" width="15.74" height="28" fill="#e9d9bf"/><rect x="296.48" y="637" width="15.74" height="28" fill="#d9442b"/><rect x="313.22" y="637" width="15.74" height="28" fill="#ee6650"/><rect x="329.96" y="637" width="15.74" height="28" fill="#ee6650"/><rect x="346.70" y="637" width="15.74" height="28" fill="#80bd60"/><rect x="363.44" y="637" width="15.74" height="28" fill="#a6db7a"/><rect x="380.18" y="637" width="15.74" height="28" fill="#62a54b"/><rect x="396.92" y="637" width="15.74" height="28" fill="#e9d9bf"/><rect x="413.66" y="637" width="15.74" height="28" fill="#e9d9bf"/><rect x="430.40" y="637" width="15.74" height="28" fill="#000000"/><rect x="447.14" y="637" width="15.74" height="28" fill="#a6db7a"/><rect x="463.88" y="637" width="15.74" height="28" fill="#d9442b"/><rect x="480.62" y="637" width="15.74" height="28" fill="#be1704"/><rect x="497.36" y="637" width="15.74" height="28" fill="#e9d9bf"/><rect x="514.10" y="637" width="15.74" height="28" fill="#e9d9bf"/><rect x="530.84" y="637" width="15.74" height="28" fill="#fb8575"/><rect x="547.58" y="637" width="15.74" height="28" fill="#ee6650"/><rect x="564.32" y="637" width="15.74" height="28" fill="#e9d9bf"/><rect x="581.06" y="637" width="15.74" height="28" fill="#be1704"/><rect x="597.80" y="637" width="15.74" height="28" fill="#be1704"/><rect x="614.54" y="637" width="15.74" height="28" fill="#80bd60"/><rect x="631.28" y="637" width="15.74" height="28" fill="#d9442b"/>
<rect x="179.30" y="665" width="15.74" height="27" fill="#fb8575"/><rect x="196.04" y="665" width="15.74" height="27" fill="#ee6650"/><rect x="212.78" y="665" width="15.74" height="27" fill="#62a54b"/><rect x="229.52" y="665" width="15.74" height="27" fill="#e9d9bf"/><rect x="246.26" y="665" width="15.74" height="27" fill="#47921d"/><rect x="263.00" y="665" width="15.74" height="27" fill="#fb8575"/><rect x="279.74" y="665" width="15.74" height="27" fill="#62a54b"/><rect x="296.48" y="665" width="15.74" height="27" fill="#fb8575"/><rect x="313.22" y="665" width="15.74" height="27" fill="#47921d"/><rect x="329.96" y="665" width="15.74" height="27" fill="#fb8575"/><rect x="346.70" y="665" width="15.74" height="27" fill="#80bd60"/><rect x="363.44" y="665" width="15.74" height="27" fill="#fb8575"/><rect x="380.18" y="665" width="15.74" height="27" fill="#62a54b"/><rect x="396.92" y="665" width="15.74" height="27" fill="#be1704"/><rect x="413.66" y="665" width="15.74" height="27" fill="#a6db7a"/><rect x="430.40" y="665" width="15.74" height="27" fill="#fb8575"/><rect x="447.14" y="665" width="15.74" height="27" fill="#000000"/><rect x="463.88" y="665" width="15.74" height="27" fill="#47921d"/><rect x="480.62" y="665" width="15.74" height="27" fill="#e9d9bf"/><rect x="497.36" y="665" width="15.74" height="27" fill="#fb8575"/><rect x="514.10" y="665" width="15.74" height="27" fill="#ee6650"/><rect x="530.84" y="665" width="15.74" height="27" fill="#ee6650"/><rect x="547.58" y="665" width="15.74" height="27" fill="#fb8575"/><rect x="564.32" y="665" width="15.74" height="27" fill="#a6db7a"/><rect x="581.06" y="665" width="15.74" height="27" fill="#e9d9bf"/><rect x="597.80" y="665" width="15.74" height="27" fill="#ee6650"/><rect x="614.54" y="665" width="15.74" height="27" fill="#be1704"/><rect x="631.28" y="665" width="15.74" height="27" fill="#fb8575"/>
<rect x="229.52" y="692" width="15.74" height="27" fill="#be1704"/><rect x="246.26" y="692" width="15.74" height="27" fill="#fb8575"/><rect x="263.00" y="692" width="15.74" height="27" fill="#be1704"/><rect x="279.74" y="692" width="15.74" height="27" fill="#be1704"/><rect x="296.48" y="692" width="15.74" height="27" fill="#62a54b"/><rect x="313.22" y="692" width="15.74" height="27" fill="#47921d"/><rect x="329.96" y="692" width="15.74" height="27" fill="#d9442b"/><rect x="363.44" y="692" width="15.74" height="27" fill="#d9442b"/><rect x="396.92" y="692" width="15.74" height="27" fill="#47921d"/><rect x="430.40" y="692" width="15.74" height="27" fill="#62a54b"/><rect x="447.14" y="692" width="15.74" height="27" fill="#be1704"/><rect x="463.88" y="692" width="15.74" height="27" fill="#000000"/><rect x="480.62" y="692" width="15.74" height="27" fill="#80bd60"/><rect x="514.10" y="692" width="15.74" height="27" fill="#fb8575"/><rect x="530.84" y="692" width="15.74" height="27" fill="#be1704"/><rect x="581.06" y="692" width="15.74" height="27" fill="#47921d"/><rect x="614.54" y="692" width="15.74" height="27" fill="#47921d"/><rect x="631.28" y="692" width="15.74" height="27" fill="#ee6650"/>
<rect x="179.30" y="719" width="15.74" height="27" fill="#a6db7a"/><rect x="196.04" y="719" width="15.74" height="27" fill="#80bd60"/><rect x="212.78" y="719" width="15.74" height="27" fill="#47921d"/><rect x="229.52" y="719" width="15.74" height="27" fill="#d9442b"/><rect x="246.26" y="719" width="15.74" height="27" fill="#a6db7a"/><rect x="263.00" y="719" width="15.74" height="27" fill="#fb8575"/><rect x="279.74" y="719" width="15.74" height="27" fill="#ee6650"/><rect x="296.48" y="719" width="15.74" height="27" fill="#e9d9bf"/><rect x="313.22" y="719" width="15.74" height="27" fill="#80bd60"/><rect x="329.96" y="719" width="15.74" height="27" fill="#a6db7a"/><rect x="346.70" y="719" width="15.74" height="27" fill="#62a54b"/><rect x="363.44" y="719" width="15.74" height="27" fill="#47921d"/><rect x="380.18" y="719" width="15.74" height="27" fill="#47921d"/><rect x="396.92" y="719" width="15.74" height="27" fill="#80bd60"/><rect x="413.66" y="719" width="15.74" height="27" fill="#47921d"/><rect x="430.40" y="719" width="15.74" height="27" fill="#47921d"/><rect x="447.14" y="719" width="15.74" height="27" fill="#e9d9bf"/><rect x="463.88" y="719" width="15.74" height="27" fill="#ee6650"/><rect x="480.62" y="719" width="15.74" height="27" fill="#000000"/><rect x="497.36" y="719" width="15.74" height="27" fill="#a6db7a"/><rect x="514.10" y="719" width="15.74" height="27" fill="#d9442b"/><rect x="530.84" y="719" width="15.74" height="27" fill="#e9d9bf"/><rect x="547.58" y="719" width="15.74" height="27" fill="#80bd60"/><rect x="564.32" y="719" width="15.74" height="27" fill="#47921d"/><rect x="581.06" y="719" width="15.74" height="27" fill="#e9d9bf"/><rect x="597.80" y="719" width="15.74" height="27" fill="#a6db7a"/><rect x="614.54" y="719" width="15.74" height="27" fill="#d9442b"/><rect x="631.28" y="719" width="15.74" height="27" fill="#a6db7a"/>
<rect x="179.30" y="746" width="15.74" height="28" fill="#80bd60"/><rect x="196.04" y="746" width="15.74" height="28" fill="#fb8575"/><rect x="212.78" y="746" width="15.74" height="28" fill="#a6db7a"/><rect x="229.52" y="746" width="15.74" height="28" fill="#80bd60"/><rect x="246.26" y="746" width="15.74" height="28" fill="#e9d9bf"/><rect x="263.00" y="746" width="15.74" height="28" fill="#62a54b"/><rect x="279.74" y="746" width="15.74" height="28" fill="#e9d9bf"/><rect x="296.48" y="746" width="15.74" height="28" fill="#be1704"/><rect x="313.22" y="746" width="15.74" height="28" fill="#fb8575"/><rect x="329.96" y="746" width="15.74" height="28" fill="#e9d9bf"/><rect x="346.70" y="746" width="15.74" height="28" fill="#a6db7a"/><rect x="363.44" y="746" width="15.74" height="28" fill="#a6db7a"/><rect x="380.18" y="746" width="15.74" height="28" fill="#a6db7a"/><rect x="396.92" y="746" width="15.74" height="28" fill="#a6db7a"/><rect x="413.66" y="746" width="15.74" height="28" fill="#fb8575"/><rect x="430.40" y="746" width="15.74" height="28" fill="#e9d9bf"/><rect x="447.14" y="746" width="15.74" height="28" fill="#a6db7a"/><rect x="480.62" y="746" width="15.74" height="28" fill="#fb8575"/><rect x="497.36" y="746" width="15.74" height="28" fill="#000000"/><rect x="514.10" y="746" width="15.74" height="28" fill="#d9442b"/><rect x="530.84" y="746" width="15.74" height="28" fill="#a6db7a"/><rect x="547.58" y="746" width="15.74" height="28" fill="#e9d9bf"/><rect x="564.32" y="746" width="15.74" height="28" fill="#80bd60"/><rect x="581.06" y="746" width="15.74" height="28" fill="#ee6650"/><rect x="597.80" y="746" width="15.74" height="28" fill="#be1704"/><rect x="614.54" y="746" width="15.74" height="28" fill="#62a54b"/><rect x="631.28" y="746" width="15.74" height="28" fill="#fb8575"/>
<rect x="179.30" y="774" width="15.74" height="27" fill="#47921d"/><rect x="196.04" y="774" width="15.74" height="27" fill="#e9d9bf"/><rect x="212.78" y="774" width="15.74" height="27" fill="#47921d"/><rect x="229.52" y="774" width="15.74" height="27" fill="#47921d"/><rect x="246.26" y="774" width="15.74" height="27" fill="#a6db7a"/><rect x="263.00" y="774" width="15.74" height="27" fill="#62a54b"/><rect x="279.74" y="774" width="15.74" height="27" fill="#a6db7a"/><rect x="296.48" y="774" width="15.74" height="27" fill="#be1704"/><rect x="313.22" y="774" width="15.74" height="27" fill="#e9d9bf"/><rect x="329.96" y="774" width="15.74" height="27" fill="#80bd60"/><rect x="346.70" y="774" width="15.74" height="27" fill="#62a54b"/><rect x="363.44" y="774" width="15.74" height="27" fill="#ee6650"/><rect x="380.18" y="774" width="15.74" height="27" fill="#80bd60"/><rect x="396.92" y="774" width="15.74" height="27" fill="#a6db7a"/><rect x="413.66" y="774" width="15.74" height="27" fill="#a6db7a"/><rect x="430.40" y="774" width="15.74" height="27" fill="#e9d9bf"/><rect x="447.14" y="774" width="15.74" height="27" fill="#80bd60"/><rect x="463.88" y="774" width="15.74" height="27" fill="#a6db7a"/><rect x="480.62" y="774" width="15.74" height="27" fill="#62a54b"/><rect x="497.36" y="774" width="15.74" height="27" fill="#62a54b"/><rect x="514.10" y="774" width="15.74" height="27" fill="#000000"/><rect x="530.84" y="774" width="15.74" height="27" fill="#47921d"/><rect x="547.58" y="774" width="15.74" height="27" fill="#a6db7a"/><rect x="564.32" y="774" width="15.74" height="27" fill="#62a54b"/><rect x="581.06" y="774" width="15.74" height="27" fill="#a6db7a"/><rect x="597.80" y="774" width="15.74" height="27" fill="#fb8575"/><rect x="614.54" y="774" width="15.74" height="27" fill="#be1704"/><rect x="631.28" y="774" width="15.74" height="27" fill="#80bd60"/>
<rect x="179.30" y="801" width="15.74" height="27" fill="#a6db7a"/><rect x="196.04" y="801" width="15.74" height="27" fill="#80bd60"/><rect x="212.78" y="801" width="15.74" height="27" fill="#47921d"/><rect x="229.52" y="801" width="15.74" height="27" fill="#ee6650"/><rect x="246.26" y="801" width="15.74" height="27" fill="#a6db7a"/><rect x="263.00" y="801" width="15.74" height="27" fill="#e9d9bf"/><rect x="279.74" y="801" width="15.74" height="27" fill="#a6db7a"/><rect x="296.48" y="801" width="15.74" height="27" fill="#fb8575"/><rect x="313.22" y="801" width="15.74" height="27" fill="#47921d"/><rect x="329.96" y="801" width="15.74" height="27" fill="#e9d9bf"/><rect x="346.70" y="801" width="15.74" height="27" fill="#a6db7a"/><rect x="363.44" y="801" width="15.74" height="27" fill="#be1704"/><rect x="380.18" y="801" width="15.74" height="27" fill="#a6db7a"/><rect x="396.92" y="801" width="15.74" height="27" fill="#fb8575"/><rect x="413.66" y="801" width="15.74" height="27" fill="#a6db7a"/><rect x="430.40" y="801" width="15.74" height="27" fill="#a6db7a"/><rect x="447.14" y="801" width="15.74" height="27" fill="#80bd60"/><rect x="463.88" y="801" width="15.74" height="27" fill="#47921d"/><rect x="480.62" y="801" width="15.74" height="27" fill="#e9d9bf"/><rect x="497.36" y="801" width="15.74" height="27" fill="#fb8575"/><rect x="514.10" y="801" width="15.74" height="27" fill="#be1704"/><rect x="530.84" y="801" width="15.74" height="27" fill="#000000"/><rect x="547.58" y="801" width="15.74" height="27" fill="#fb8575"/><rect x="564.32" y="801" width="15.74" height="27" fill="#47921d"/><rect x="581.06" y="801" width="15.74" height="27" fill="#e9d9bf"/><rect x="597.80" y="801" width="15.74" height="27" fill="#80bd60"/><rect x="614.54" y="801" width="15.74" height="27" fill="#be1704"/><rect x="631.28" y="801" width="15.74" height="27" fill="#e9d9bf"/>
<rect x="179.30" y="828" width="15.74" height="28" fill="#80bd60"/><rect x="196.04" y="828" width="15.74" height="28" fill="#e9d9bf"/><rect x="212.78" y="828" width="15.74" height="28" fill="#80bd60"/><rect x="229.52" y="828" width="15.74" height="28" fill="#e9d9bf"/><rect x="246.26" y="828" width="15.74" height="28" fill="#fb8575"/><rect x="263.00" y="828" width="15.74" height="28" fill="#a6db7a"/><rect x="279.74" y="828" width="15.74" height="28" fill="#a6db7a"/><rect x="296.48" y="828" width="15.74" height="28" fill="#be1704"/><rect x="313.22" y="828" width="15.74" height="28" fill="#fb8575"/><rect x="329.96" y="828" width="15.74" height="28" fill="#e9d9bf"/><rect x="346.70" y="828" width="15.74" height="28" fill="#a6db7a"/><rect x="363.44" y="828" width="15.74" height="28" fill="#e9d9bf"/><rect x="380.18" y="828" width="15.74" height="28" fill="#62a54b"/><rect x="396.92" y="828" width="15.74" height="28" fill="#e9d9bf"/><rect x="413.66" y="828" width="15.74" height="28" fill="#a6db7a"/><rect x="430.40" y="828" width="15.74" height="28" fill="#80bd60"/><rect x="447.14" y="828" width="15.74" height="28" fill="#a6db7a"/><rect x="480.62" y="828" width="15.74" height="28" fill="#ee6650"/><rect x="497.36" y="828" width="15.74" height="28" fill="#e9d9bf"/><rect x="514.10" y="828" width="15.74" height="28" fill="#fb8575"/><rect x="530.84" y="828" width="15.74" height="28" fill="#a6db7a"/><rect x="547.58" y="828" width="15.74" height="28" fill="#000000"/><rect x="564.32" y="828" width="15.74" height="28" fill="#a6db7a"/><rect x="581.06" y="828" width="15.74" height="28" fill="#d9442b"/><rect x="597.80" y="828" width="15.74" height="28" fill="#ee6650"/><rect x="614.54" y="828" width="15.74" height="28" fill="#e9d9bf"/><rect x="631.28" y="828" width="15.74" height="28" fill="#a6db7a"/>
<rect x="179.30" y="856" width="15.74" height="27" fill="#d9442b"/><rect x="196.04" y="856" width="15.74" height="27" fill="#d9442b"/><rect x="212.78" y="856" width="15.74" height="27" fill="#ee6650"/><rect x="229.52" y="856" width="15.74" height="27" fill="#ee6650"/><rect x="246.26" y="856" width="15.74" height="27" fill="#d9442b"/><rect x="263.00" y="856" width="15.74" height="27" fill="#fb8575"/><rect x="279.74" y="856" width="15.74" height="27" fill="#d9442b"/><rect x="296.48" y="856" width="15.74" height="27" fill="#be1704"/><rect x="313.22" y="856" width="15.74" height="27" fill="#fb8575"/><rect x="329.96" y="856" width="15.74" height="27" fill="#be1704"/><rect x="346.70" y="856" width="15.74" height="27" fill="#fb8575"/><rect x="363.44" y="856" width="15.74" height="27" fill="#fb8575"/><rect x="380.18" y="856" width="15.74" height="27" fill="#80bd60"/><rect x="396.92" y="856" width="15.74" height="27" fill="#e9d9bf"/><rect x="413.66" y="856" width="15.74" height="27" fill="#a6db7a"/><rect x="430.40" y="856" width="15.74" height="27" fill="#e9d9bf"/><rect x="447.14" y="856" width="15.74" height="27" fill="#fb8575"/><rect x="480.62" y="856" width="15.74" height="27" fill="#be1704"/><rect x="497.36" y="856" width="15.74" height="27" fill="#ee6650"/><rect x="514.10" y="856" width="15.74" height="27" fill="#d9442b"/><rect x="530.84" y="856" width="15.74" height="27" fill="#be1704"/><rect x="547.58" y="856" width="15.74" height="27" fill="#fb8575"/><rect x="564.32" y="856" width="15.74" height="27" fill="#000000"/><rect x="581.06" y="856" width="15.74" height="27" fill="#be1704"/><rect x="597.80" y="856" width="15.74" height="27" fill="#ee6650"/><rect x="614.54" y="856" width="15.74" height="27" fill="#ee6650"/><rect x="631.28" y="856" width="15.74" height="27" fill="#be1704"/>
<rect x="179.30" y="883" width="15.74" height="27" fill="#e9d9bf"/><rect x="196.04" y="883" width="15.74" height="27" fill="#ee6650"/><rect x="212.78" y="883" width="15.74" height="27" fill="#e9d9bf"/><rect x="229.52" y="883" width="15.74" height="27" fill="#a6db7a"/><rect x="246.26" y="883" width="15.74" height="27" fill="#fb8575"/><rect x="263.00" y="883" width="15.74" height="27" fill="#e9d9bf"/><rect x="279.74" y="883" width="15.74" height="27" fill="#d9442b"/><rect x="296.48" y="883" width="15.74" height="27" fill="#ee6650"/><rect x="313.22" y="883" width="15.74" height="27" fill="#e9d9bf"/><rect x="329.96" y="883" width="15.74" height="27" fill="#a6db7a"/><rect x="346.70" y="883" width="15.74" height="27" fill="#fb8575"/><rect x="363.44" y="883" width="15.74" height="27" fill="#fb8575"/><rect x="380.18" y="883" width="15.74" height="27" fill="#47921d"/><rect x="396.92" y="883" width="15.74" height="27" fill="#47921d"/><rect x="413.66" y="883" width="15.74" height="27" fill="#80bd60"/><rect x="430.40" y="883" width="15.74" height="27" fill="#47921d"/><rect x="447.14" y="883" width="15.74" height="27" fill="#e9d9bf"/><rect x="463.88" y="883" width="15.74" height="27" fill="#be1704"/><rect x="480.62" y="883" width="15.74" height="27" fill="#e9d9bf"/><rect x="497.36" y="883" width="15.74" height="27" fill="#80bd60"/><rect x="514.10" y="883" width="15.74" height="27" fill="#fb8575"/><rect x="530.84" y="883" width="15.74" height="27" fill="#e9d9bf"/><rect x="547.58" y="883" width="15.74" height="27" fill="#62a54b"/><rect x="564.32" y="883" width="15.74" height="27" fill="#47921d"/><rect x="581.06" y="883" width="15.74" height="27" fill="#000000"/><rect x="597.80" y="883" width="15.74" height="27" fill="#e9d9bf"/><rect x="614.54" y="883" width="15.74" height="27" fill="#a6db7a"/><rect x="631.28" y="883" width="15.74" height="27" fill="#62a54b"/>
<rect x="179.30" y="910" width="15.74" height="27" fill="#e9d9bf"/><rect x="196.04" y="910" width="15.74" height="27" fill="#be1704"/><rect x="212.78" y="910" width="15.74" height="27" fill="#d9442b"/><rect x="229.52" y="910" width="15.74" height="27" fill="#62a54b"/><rect x="246.26" y="910" width="15.74" height="27" fill="#ee6650"/><rect x="263.00" y="910" width="15.74" height="27" fill="#80bd60"/><rect x="279.74" y="910" width="15.74" height="27" fill="#fb8575"/><rect x="296.48" y="910" width="15.74" height="27" fill="#d9442b"/><rect x="313.22" y="910" width="15.74" height="27" fill="#ee6650"/><rect x="329.96" y="910" width="15.74" height="27" fill="#a6db7a"/><rect x="346.70" y="910" width="15.74" height="27" fill="#be1704"/><rect x="363.44" y="910" width="15.74" height="27" fill="#ee6650"/><rect x="380.18" y="910" width="15.74" height="27" fill="#47921d"/><rect x="396.92" y="910" width="15.74" height="27" fill="#47921d"/><rect x="413.66" y="910" width="15.74" height="27" fill="#ee6650"/><rect x="430.40" y="910" width="15.74" height="27" fill="#47921d"/><rect x="447.14" y="910" width="15.74" height="27" fill="#80bd60"/><rect x="480.62" y="910" width="15.74" height="27" fill="#fb8575"/><rect x="497.36" y="910" width="15.74" height="27" fill="#47921d"/><rect x="514.10" y="910" width="15.74" height="27" fill="#a6db7a"/><rect x="530.84" y="910" width="15.74" height="27" fill="#ee6650"/><rect x="547.58" y="910" width="15.74" height="27" fill="#80bd60"/><rect x="564.32" y="910" width="15.74" height="27" fill="#80bd60"/><rect x="581.06" y="910" width="15.74" height="27" fill="#e9d9bf"/><rect x="597.80" y="910" width="15.74" height="27" fill="#000000"/><rect x="614.54" y="910" width="15.74" height="27" fill="#47921d"/><rect x="631.28" y="910" width="15.74" height="27" fill="#ee6650"/>
<rect x="179.30" y="937" width="15.74" height="28" fill="#80bd60"/><rect x="196.04" y="937" width="15.74" height="28" fill="#e9d9bf"/><rect x="212.78" y="937" width="15.74" height="28" fill="#ee6650"/><rect x="229.52" y="937" width="15.74" height="28" fill="#47921d"/><rect x="246.26" y="937" width="15.74" height="28" fill="#d9442b"/><rect x="263.00" y="937" width="15.74" height="28" fill="#47921d"/><rect x="279.74" y="937" width="15.74" height="28" fill="#47921d"/><rect x="296.48" y="937" width="15.74" height="28" fill="#fb8575"/><rect x="313.22" y="937" width="15.74" height="28" fill="#fb8575"/><rect x="329.96" y="937" width="15.74" height="28" fill="#be1704"/><rect x="346.70" y="937" width="15.74" height="28" fill="#e9d9bf"/><rect x="363.44" y="937" width="15.74" height="28" fill="#fb8575"/><rect x="380.18" y="937" width="15.74" height="28" fill="#ee6650"/><rect x="396.92" y="937" width="15.74" height="28" fill="#a6db7a"/><rect x="413.66" y="937" width="15.74" height="28" fill="#62a54b"/><rect x="430.40" y="937" width="15.74" height="28" fill="#ee6650"/><rect x="447.14" y="937" width="15.74" height="28" fill="#47921d"/><rect x="463.88" y="937" width="15.74" height="28" fill="#be1704"/><rect x="480.62" y="937" width="15.74" height="28" fill="#62a54b"/><rect x="497.36" y="937" width="15.74" height="28" fill="#d9442b"/><rect x="514.10" y="937" width="15.74" height="28" fill="#47921d"/><rect x="530.84" y="937" width="15.74" height="28" fill="#47921d"/><rect x="547.58" y="937" width="15.74" height="28" fill="#e9d9bf"/><rect x="564.32" y="937" width="15.74" height="28" fill="#80bd60"/><rect x="581.06" y="937" width="15.74" height="28" fill="#fb8575"/><rect x="597.80" y="937" width="15.74" height="28" fill="#be1704"/><rect x="614.54" y="937" width="15.74" height="28" fill="#000000"/><rect x="631.28" y="937" width="15.74" height="28" fill="#be1704"/>
<rect x="179.30" y="965" width="15.74" height="27" fill="#fb8575"/><rect x="196.04" y="965" width="15.74" height="27" fill="#62a54b"/><rect x="212.78" y="965" width="15.74" height="27" fill="#62a54b"/><rect x="229.52" y="965" width="15.74" height="27" fill="#ee6650"/><rect x="246.26" y="965" width="15.74" height="27" fill="#fb8575"/><rect x="263.00" y="965" width="15.74" height="27" fill="#ee6650"/><rect x="279.74" y="965" width="15.74" height="27" fill="#fb8575"/><rect x="296.48" y="965" width="15.74" height="27" fill="#fb8575"/><rect x="313.22" y="965" width="15.74" height="27" fill="#47921d"/><rect x="329.96" y="965" width="15.74" height="27" fill="#62a54b"/><rect x="346.70" y="965" width="15.74" height="27" fill="#fb8575"/><rect x="363.44" y="965" width="15.74" height="27" fill="#be1704"/><rect x="380.18" y="965" width="15.74" height="27" fill="#80bd60"/><rect x="396.92" y="965" width="15.74" height="27" fill="#62a54b"/><rect x="413.66" y="965" width="15.74" height="27" fill="#a6db7a"/><rect x="430.40" y="965" width="15.74" height="27" fill="#62a54b"/><rect x="447.14" y="965" width="15.74" height="27" fill="#a6db7a"/><rect x="463.88" y="965" width="15.74" height="27" fill="#80bd60"/><rect x="480.62" y="965" width="15.74" height="27" fill="#fb8575"/><rect x="497.36" y="965" width="15.74" height="27" fill="#a6db7a"/><rect x="514.10" y="965" width="15.74" height="27" fill="#ee6650"/><rect x="530.84" y="965" width="15.74" height="27" fill="#e9d9bf"/><rect x="547.58" y="965" width="15.74" height="27" fill="#fb8575"/><rect x="564.32" y="965" width="15.74" height="27" fill="#47921d"/><rect x="581.06" y="965" width="15.74" height="27" fill="#d9442b"/><rect x="597.80" y="965" width="15.74" height="27" fill="#80bd60"/><rect x="614.54" y="965" width="15.74" height="27" fill="#47921d"/><rect x="631.28" y="965" width="15.74" height="27" fill="#000000"/>
<rect x="178.80" y="283" width="468.72" height="1" fill="#fff" fill-opacity="0.6"/><rect x="178.80" y="364" width="468.72" height="1" fill="#fff" fill-opacity="0.6"/><rect x="178.80" y="473" width="468.72" height="1" fill="#fff" fill-opacity="0.6"/><rect x="178.80" y="610" width="468.72" height="1" fill="#fff" fill-opacity="0.3"/><rect x="178.80" y="664" width="468.72" height="1" fill="#fff" fill-opacity="0.6"/><rect x="178.80" y="310" width="468.72" height="1" fill="#f4f4f6" fill-opacity="0.72"/><rect x="178.80" y="392" width="468.72" height="1" fill="#f4f4f6" fill-opacity="0.72"/><rect x="178.80" y="446" width="468.72" height="1" fill="#f4f4f6" fill-opacity="0.72"/><rect x="178.80" y="501" width="468.72" height="1" fill="#f4f4f6" fill-opacity="0.72"/><rect x="178.80" y="555" width="468.72" height="1" fill="#f4f4f6" fill-opacity="0.72"/><rect x="178.80" y="692" width="468.72" height="1" fill="#f4f4f6" fill-opacity="0.72"/><rect x="178.80" y="746" width="468.72" height="1" fill="#f4f4f6" fill-opacity="0.72"/><rect x="178.80" y="855" width="468.72" height="1" fill="#f4f4f6" fill-opacity="0.72"/><rect x="178.80" y="937" width="468.72" height="1" fill="#f4f4f6" fill-opacity="0.72"/></svg>
<div class="hl" style="top:228px;width:642px;background:#cfcfcf;"></div>
<div class="h" style="top:235.1px;">DemonHunter</div>
<div class="hl" style="top:310px;width:173px;"></div>
<div class="h" style="top:316.9px;">Druid</div>
<div class="hl" style="top:392px;width:173px;"></div>
<div class="h" style="top:398.8px;">Hunter</div>
<div class="hl" style="top:446px;width:173px;"></div>
<div class="h" style="top:453.3px;">Mage</div>
<div class="hl" style="top:501px;width:173px;"></div>
<div class="h" style="top:507.9px;">Paladin</div>
<div class="hl" style="top:555px;width:173px;"></div>
<div class="h" style="top:562.4px;">Priest</div>
<div class="hl" style="top:692px;width:173px;"></div>
<div class="h" style="top:698.8px;">Rogue</div>
<div class="hl" style="top:746px;width:173px;"></div>
<div class="h" style="top:753.3px;">Shaman</div>
<div class="hl" style="top:855px;width:173px;"></div>
<div class="h" style="top:862.4px;">Warlock</div>
<div class="hl" style="top:937px;width:173px;"></div>
<div class="h" style="top:944.2px;">Warrior</div>
<div class="hl" style="top:992px;width:642px;"></div>
<div class="d" style="top:228.8px;height:27.3px;"><span>Deathrattle<br>DemonHunter</span></div>
<div class="d" style="top:256.1px;height:27.3px;"><span>Fel DemonHunter</span></div>
<div class="d" style="top:283.4px;height:27.3px;"><span>Quest<br>DemonHunter</span></div>
<div class="d" style="top:310.6px;height:27.3px;"><span>Beast Druid</span></div>
<div class="d" style="top:337.9px;height:27.3px;"><span>Ramp Druid</span></div>
<div class="d" style="top:365.2px;height:27.3px;"><span>Taunt Druid</span></div>
<div class="d" style="top:392.4px;height:27.3px;"><span>Face Hunter</span></div>
<div class="d" style="top:419.7px;height:27.3px;"><span>Quest Hunter</span></div>
<div class="d" style="top:447.0px;height:27.3px;"><span>Mozaki Mage</span></div>
<div class="d" style="top:474.3px;height:27.3px;"><span>Wildfire Mage</span></div>
<div class="d" style="top:501.6px;height:27.3px;"><span>Buff Paladin</span></div>
<div class="d" style="top:528.8px;height:27.3px;"><span>Libram Paladin</span></div>
<div class="d" style="top:556.1px;height:27.3px;"><span>Big Priest</span></div>
<div class="d" style="top:583.4px;height:27.3px;"><span>Dragon Priest</span></div>
<div class="d" style="top:610.6px;height:27.3px;"><span>Miracle Priest</span></div>
<div class="d" style="top:637.9px;height:27.3px;"><span>Quest Priest</span></div>
<div class="d" style="top:665.2px;height:27.3px;"><span>Shadow Priest</span></div>
<div class="d" style="top:692.5px;height:27.3px;"><span>Poison Rogue</span></div>
<div class="d" style="top:719.8px;height:27.3px;"><span>Quest Rogue</span></div>
<div class="d" style="top:747.0px;height:27.3px;"><span>Bolner Shaman</span></div>
<div class="d" style="top:774.3px;height:27.3px;"><span>Burn Shaman</span></div>
<div class="d" style="top:801.6px;height:27.3px;"><span>Elemental<br>Shaman</span></div>
<div class="d" style="top:828.8px;height:27.3px;"><span>Quest Shaman</span></div>
<div class="d" style="top:856.1px;height:27.3px;"><span>Control Warlock</span></div>
<div class="d" style="top:883.4px;height:27.3px;"><span>Hand Warlock</span></div>
<div class="d" style="top:910.7px;height:27.3px;"><span>Owl Warlock</span></div>
<div class="d" style="top:937.9px;height:27.3px;"><span>Control Warrior</span></div>
<div class="d" style="top:965.2px;height:27.3px;"><span>Quest Warrior</span></div>
</div></body></html>
